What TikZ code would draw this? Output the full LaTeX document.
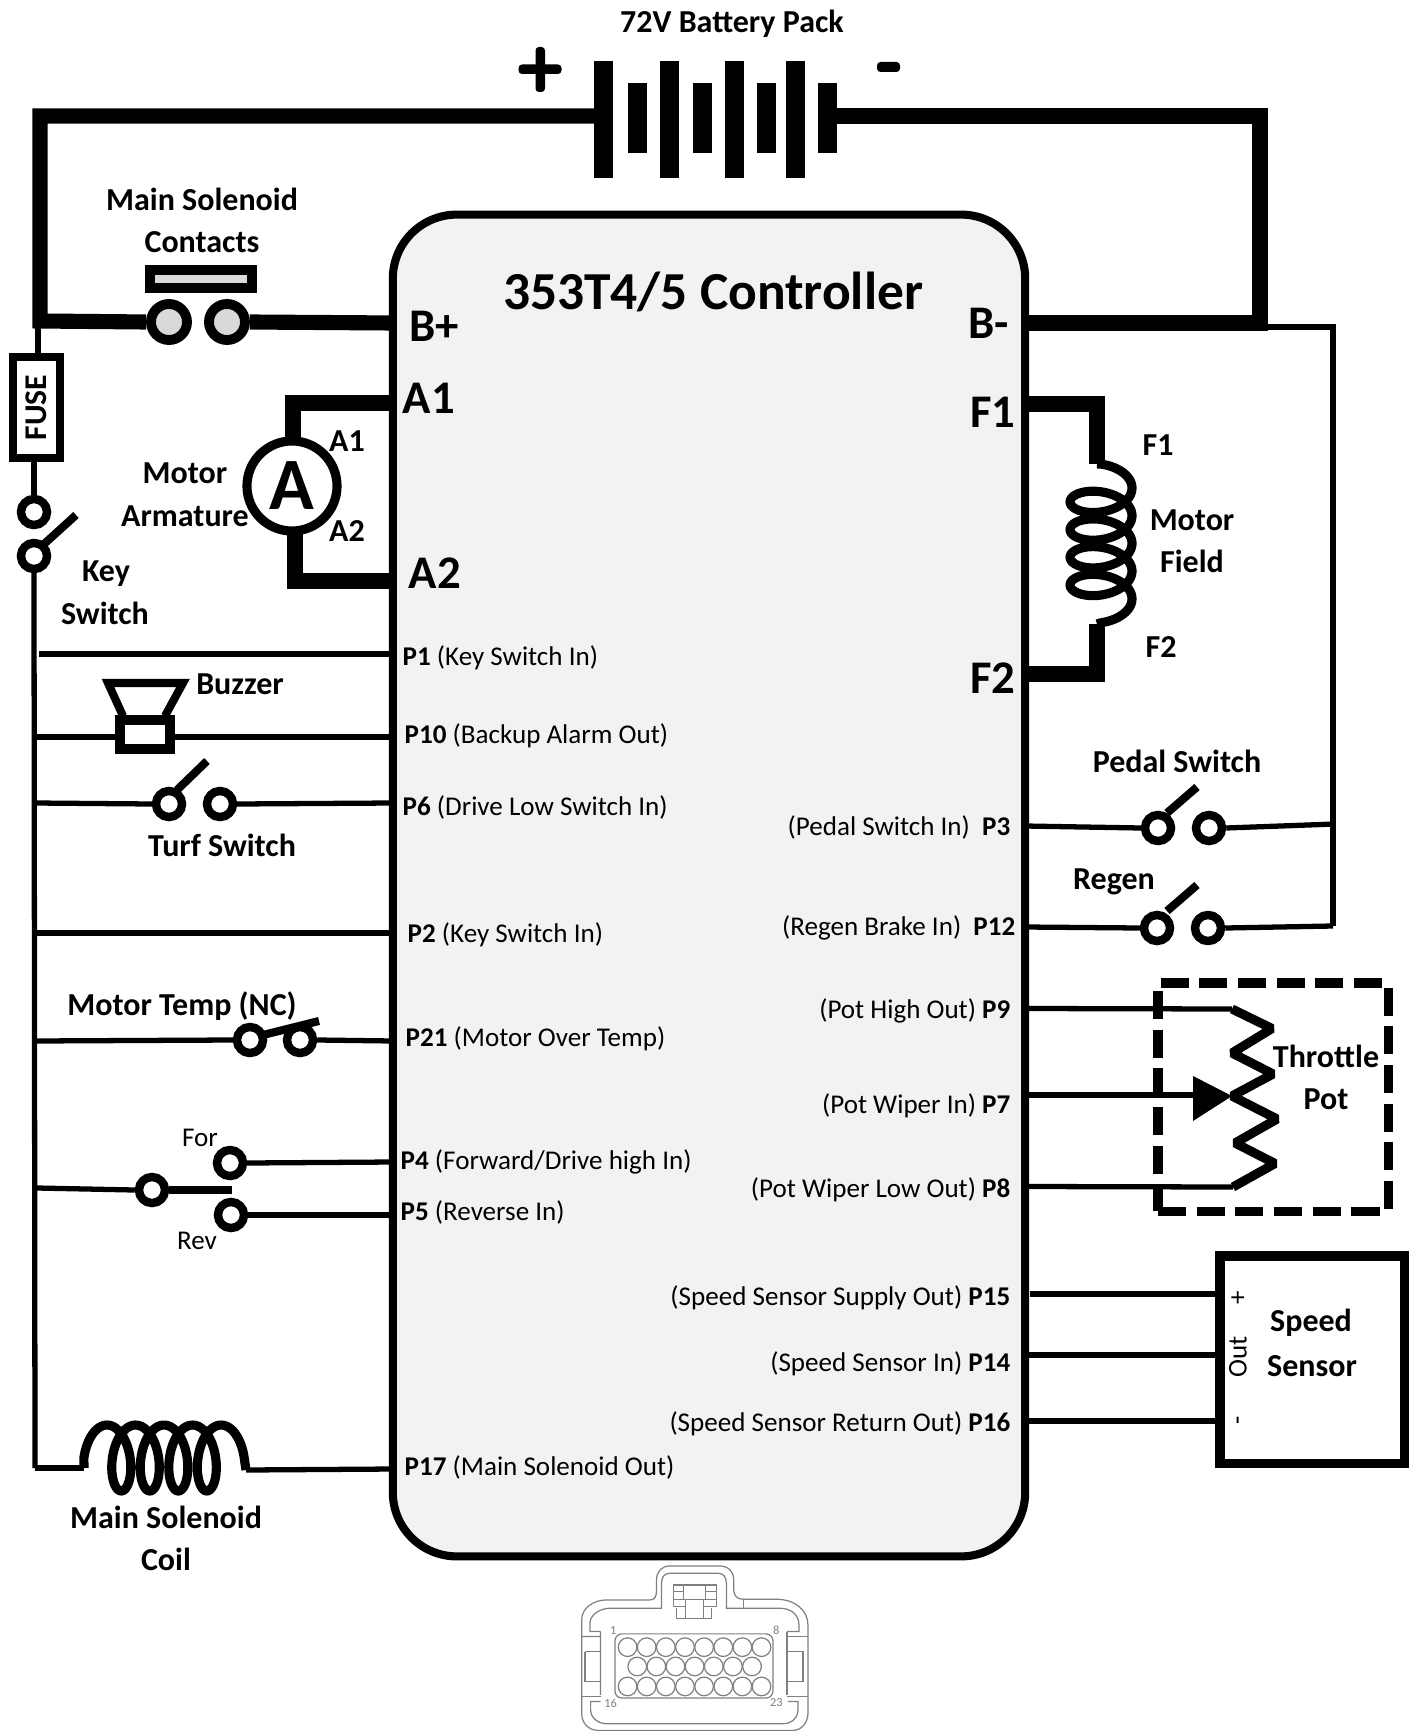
\documentclass[tikz,border=0pt]{standalone}
\usepackage{fontspec}
\setmainfont{Carlito}
\definecolor{ctrlgray}{HTML}{F2F2F2}
\definecolor{contactgray}{HTML}{D9D9D9}
\definecolor{pluggray}{HTML}{808080}
\tikzset{
  wthin/.style={line width=1.5pt},
  wmed/.style={line width=2.3pt},
  wcoil/.style={line width=2.6pt, line join=bevel},
  wthick/.style={line width=4.3pt, line join=miter},
  lbl/.style={font=\fontsize{9.1}{11}\selectfont\bfseries, inner sep=0pt},
  pinlbl/.style={font=\fontsize{7.7}{9}\selectfont, inner sep=0pt},
  biglbl/.style={font=\fontsize{13.3}{15}\selectfont\bfseries, inner sep=0pt},
  swc/.style={circle, draw, line width=2.4pt, fill=white, minimum size=0.26cm, inner sep=0pt},
  contact/.style={circle, draw, line width=2.8pt, fill=contactgray, minimum size=0.36cm, inner sep=0pt},
  plug/.style={draw=pluggray, line width=0.35pt},
}
\begin{document}
\begin{tikzpicture}[x=0.01cm, y=-0.01cm]
    \useasboundingbox (0,0) rectangle (1410,1731);
    \clip (0,0) rectangle (1410,1731);

    % Pin ends on the controller edge
    \coordinate (bplus) at (393,323);
    \coordinate (a1) at (393,403);
    \coordinate (a2) at (393,581);
    \coordinate (p1) at (393,654);
    \coordinate (p10) at (393,737);
    \coordinate (p6) at (393,803);
    \coordinate (p2) at (393,933);
    \coordinate (p21) at (393,1041);
    \coordinate (p4) at (393,1162);
    \coordinate (p5) at (393,1215);
    \coordinate (p17) at (393,1469);
    \coordinate (bminus) at (1025,323);
    \coordinate (f1) at (1025,404);
    \coordinate (f2) at (1025,674);
    \coordinate (p3) at (1025,826);
    \coordinate (p12) at (1025,927);
    \coordinate (p9) at (1025,1008.5);
    \coordinate (p7) at (1025,1095);
    \coordinate (p8) at (1025,1186.5);
    \coordinate (p15) at (1030,1294);
    \coordinate (p14) at (1025,1355);
    \coordinate (p16) at (1025,1421);

    % Battery pack
    \coordinate (batl) at (594,116);
    \coordinate (batr) at (837,116);
    \foreach \bx in {603.5,669.5,734.5,795.5}
        \fill (\bx-9.5,61) rectangle (\bx+9.5,178);
    \foreach \bx in {637.5,702,766.5,827.5}
        \fill (\bx-9.5,83) rectangle (\bx+9.5,153);
    \fill[rounded corners=1pt] (518.5,64.5) rectangle (561.5,74);
    \fill[rounded corners=1pt] (535.5,47) rectangle (545,92);
    \fill[rounded corners=1pt] (877,62) rectangle (900,72);
    \node[lbl] (batlbl) at (732,24) {72V Battery Pack};

    % Main power wires
    \coordinate (tl) at (40,116);
    \coordinate (bl) at (40,321);
    \coordinate (tr) at (1260,116);
    \coordinate (br) at (1260,323);
    \coordinate (rr) at (1333,327);
    \coordinate (rb) at (1333,926);
    \coordinate (rs) at (1267,327);
    \node[contact] (c1) at (169,322) {};
    \node[contact] (c2) at (227,322) {};
    \draw[wthick] (batl) -- (tl) -- (bl) -- (c1.west);
    \draw[wthick] (c2.east) -- (bplus);
    \draw[wthick] (batr) -- (tr) -- (br) -- (bminus);
    \draw[wthin] (rs) -- (rr) -- (rb);
    \node[draw, line width=2.8pt, fill=contactgray, minimum width=1.02cm, minimum height=0.18cm, inner sep=0pt] (cbar) at (201,279) {};
    \node[lbl] (solc1) at (202,199) {Main Solenoid};
    \node[lbl] (solc2) at (202,242) {Contacts};

    % Fuse and key switch
    \coordinate (fuset) at (38,328);
    \coordinate (railb) at (35,1468);
    \node[draw, line width=2.3pt, rotate=90, minimum width=1.01cm, minimum height=0.47cm, inner sep=0pt, font=\fontsize{9}{10}\selectfont\bfseries] (fuse) at (36.5,407.5) {FUSE};
    \node[swc] (k1) at (34,512) {};
    \node[swc] (k2) at (34,556) {};
    \draw[wthin] (fuset) -- (fuset |- fuse.east);
    \draw[wthin] (k1 |- fuse.west) -- (k1.north);
    \draw[wthin] (k2.south) -- (railb);
    \draw[wmed] (43,545) -- (76,515);
    \node[lbl] (key1) at (106,573.5) {Key};
    \node[lbl] (key2) at (105,613) {Switch};

    % Armature
    \coordinate (arm1) at (293,403);
    \coordinate (arm2) at (295,581);
    \draw[wthick] (a1) -- (arm1) -- (293,445);
    \draw[wthick] (295,530) -- (arm2) -- (a2);
    \node[circle, draw, line width=2.6pt, fill=white, minimum size=0.9cm, inner sep=0pt, font=\fontsize{21}{23}\selectfont\bfseries] (arm) at (292,486) {A};
    \node[lbl] (arma1) at (347,441) {A1};
    \node[lbl] (arma2) at (347,531) {A2};
    \node[lbl] (mot1) at (185,473) {Motor};
    \node[lbl] (mot2) at (185,516) {Armature};

    % Left side wires
    \coordinate (p1w) at (39,654);
    \draw[wthin] (p1w) -- (p1);
    \draw[wthin] (railb |- p10) -- (p10);
    \draw[wmed] (123,716) -- (108,683) -- (183,683) -- (165,716);
    \node[draw, line width=2.6pt, fill=white, minimum width=0.5cm, minimum height=0.29cm, inner sep=0pt] (buzz) at (145,734.5) {};
    \node[lbl] (buzzlbl) at (240,684) {Buzzer};

    \node[swc] (t1) at (169,804) {};
    \node[swc] (t2) at (220,804) {};
    \draw[wthin] (railb |- p6) -- (t1.west);
    \draw[wthin] (t2.east) -- (p6);
    \draw[wmed] (177,790) -- (207,761);
    \node[lbl] (turf) at (222,845) {Turf Switch};

    \draw[wthin] (railb |- p2) -- (p2);

    \node[swc] (mt1) at (250,1040) {};
    \node[swc] (mt2) at (300,1040) {};
    \draw[wthin] (railb |- p21) -- (mt1.west);
    \draw[wthin] (mt2.east) -- (p21);
    \draw[wmed] (263,1035) -- (319,1021);
    \node[lbl] (mtemp) at (182,1006) {Motor Temp (NC)};

    % Forward / reverse
    \coordinate (fwl) at (37,1188);
    \coordinate (fwb) at (232,1190);
    \node[swc] (fc) at (152,1190) {};
    \node[swc] (ff) at (230,1163) {};
    \node[swc] (fr) at (231,1215) {};
    \draw[wthin] (fwl) -- (fc.west);
    \draw[line width=2.5pt] (fc.east) -- (fwb);
    \draw[wthin] (ff.east) -- (p4);
    \draw[wthin] (fr.east) -- (p5);
    \node[pinlbl] (forl) at (200,1138) {For};
    \node[pinlbl] (revl) at (197,1241) {Rev};

    % Main solenoid coil
    \coordinate (coill) at (84,1468);
    \coordinate (coilr) at (246,1470);
    \draw[wthin] (railb) -- (coill);
    \draw[wthin] (coilr) -- (p17);
    \draw[wcoil] (coill) -- plot[domain=-90:1530, samples=240] ({107+(\x/57.2958)*4.54+16*sin(\x)}, {1458-33*cos(\x)}) -- (coilr);
    \node[lbl] (solm1) at (166,1517) {Main Solenoid};
    \node[lbl] (solm2) at (166,1559) {Coil};

    % Motor field
    \coordinate (fld1) at (1097,404);
    \coordinate (fld2) at (1097,674);
    \coordinate (fld1e) at (1097,464);
    \coordinate (fld2e) at (1097,624);
    \draw[wthick] (f1) -- (fld1) -- (fld1e);
    \draw[wthick] (fld2e) -- (fld2) -- (f2);
    \draw[wcoil] (fld1e) -- plot[domain=-90:1530, samples=240] ({1101+31*cos(\x)}, {488+(\x/57.2958)*4.41+17*sin(\x)}) -- (fld2e);
    \node[lbl] (ff1) at (1158,445) {F1};
    \node[lbl] (ff2) at (1161,647) {F2};
    \node[lbl] (fm1) at (1192,520) {Motor};
    \node[lbl] (fm2) at (1192,561) {Field};

    % Pedal and regen switches
    \coordinate (pse) at (1335,824);
    \node[swc] (ps1) at (1158,828) {};
    \node[swc] (ps2) at (1209,828) {};
    \draw[wthin] (p3) -- (ps1.west);
    \draw[wthin] (ps2.east) -- (pse);
    \draw[wmed] (1167,813) -- (1197,787);
    \node[lbl] (pedal) at (1177,761) {Pedal Switch};
    \node[swc] (rg1) at (1157,928) {};
    \node[swc] (rg2) at (1208,928) {};
    \draw[wthin] (p12) -- (rg1.west);
    \draw[wthin] (rg2.east) -- (rb);
    \draw[wmed] (1167,911) -- (1197,885);
    \node[lbl] (regen) at (1114,882) {Regen};

    % Throttle pot
    \coordinate (z1) at (1232,1009);
    \coordinate (z5) at (1232,1096);
    \coordinate (z9) at (1233,1187);
    \coordinate (wip) at (1193,1095);
    \draw[wthin] (p9) -- (z1);
    \draw[wthin] (p7) -- (wip);
    \draw[wthin] (p8) -- (z9);
    \draw[wcoil] (z1) -- (1272,1028.5) -- (1232,1053) -- (1273,1074) -- (z5) -- (1277,1119) -- (1235,1143) -- (1275,1163.5) -- (z9);
    \fill (1193,1076) -- (z5) -- (1193,1121) -- cycle;
    \node[draw, line width=2.6pt, dash pattern=on 8pt off 3pt, minimum width=2.3cm, minimum height=2.28cm, inner sep=0pt] (pot) at (1273,1097) {};
    \node[lbl] (th1) at (1326,1056) {Throttle};
    \node[lbl] (th2) at (1326,1099) {Pot};

    % Speed sensor
    \node[draw, line width=2.6pt, minimum width=1.84cm, minimum height=2.07cm, inner sep=0pt] (sens) at (1312,1359.5) {};
    \draw[wthin] (p15) -- (sens.west |- p15);
    \draw[wthin] (p14) -- (sens.west |- p14);
    \draw[wthin] (p16) -- (sens.west |- p16);
    \node[pinlbl, rotate=90] (splus) at (1239,1298) {+};
    \node[pinlbl, rotate=90] (sout) at (1238,1357) {Out};
    \node[pinlbl, rotate=90] (sminus) at (1241,1420) {-};
    \node[lbl] (sp1) at (1311,1323) {Speed};
    \node[lbl] (sp2) at (1312,1366) {Sensor};

    % Controller
    \node[draw, line width=2.3pt, fill=ctrlgray, rounded corners=0.64cm, minimum width=6.32cm, minimum height=13.41cm, inner sep=0pt] (ctrl) at (709,885.5) {};
    \node[font=\fontsize{15.2}{17}\selectfont\bfseries, inner sep=0pt] (title) at (713,292) {353T4/5 Controller};
    \node[biglbl] (lbplus) at (434,326) {B+};
    \node[biglbl] (lbminus) at (989,323) {B-};
    \node[biglbl] (la1) at (429,398) {A1};
    \node[biglbl] (la2) at (435,573) {A2};
    \node[biglbl] (lf1) at (993,412) {F1};
    \node[biglbl] (lf2) at (993,678) {F2};

    % Pin labels, left
    \node[pinlbl, anchor=west] (lp1) at (402,657.5) {\textbf{P1} (Key Switch In)};
    \node[pinlbl, anchor=west] (lp10) at (404,735.5) {\textbf{P10} (Backup Alarm Out)};
    \node[pinlbl, anchor=west] (lp6) at (402,807.5) {\textbf{P6} (Drive Low Switch In)};
    \node[pinlbl, anchor=west] (lp2) at (407,934.5) {\textbf{P2} (Key Switch In)};
    \node[pinlbl, anchor=west] (lp21) at (405,1038.5) {\textbf{P21} (Motor Over Temp)};
    \node[pinlbl, anchor=west] (lp4) at (400,1161.5) {\textbf{P4} (Forward/Drive high In)};
    \node[pinlbl, anchor=west] (lp5) at (400,1212.5) {\textbf{P5} (Reverse In)};
    \node[pinlbl, anchor=west] (lp17) at (404,1467.5) {\textbf{P17} (Main Solenoid Out)};

    % Pin labels, right
    \node[pinlbl, anchor=east] (lp3) at (1011,827.5) {(Pedal Switch In)~~\textbf{P3}};
    \node[pinlbl, anchor=east] (lp12) at (1016,927.5) {(Regen Brake In)~~\textbf{P12}};
    \node[pinlbl, anchor=east] (lp9) at (1011,1010.5) {(Pot High Out) \textbf{P9}};
    \node[pinlbl, anchor=east] (lp7) at (1011,1105.5) {(Pot Wiper In) \textbf{P7}};
    \node[pinlbl, anchor=east] (lp8) at (1011,1189.5) {(Pot Wiper Low Out) \textbf{P8}};
    \node[pinlbl, anchor=east] (lp15) at (1011,1297.5) {(Speed Sensor Supply Out) \textbf{P15}};
    \node[pinlbl, anchor=east] (lp14) at (1011,1363.5) {(Speed Sensor In) \textbf{P14}};
    \node[pinlbl, anchor=east] (lp16) at (1011,1423.5) {(Speed Sensor Return Out) \textbf{P16}};

    % Plug outline
    \begin{scope}[shift={(560,1540)}, x=0.00333cm, y=-0.00333cm]
        \draw[plug] (65,290) -- (65,240) .. controls (65,205) and (100,180) .. (140,180) -- (270,180) .. controls (285,180) and (290,170) .. (290,150) -- (290,120) .. controls (290,95) and (305,78) .. (330,78) -- (480,78) .. controls (505,78) and (522,95) .. (522,120) -- (522,150) .. controls (522,170) and (535,178) .. (552,178) -- (650,178) .. controls (705,178) and (745,210) .. (745,255) -- (745,290);
        \draw[plug] (122,275) -- (90,275) -- (90,250) .. controls (90,225) and (120,205) .. (150,205) -- (305,205) -- (305,130) .. controls (305,110) and (315,100) .. (330,100) -- (475,100) .. controls (490,100) and (500,110) .. (500,130) -- (500,205) -- (660,205) .. controls (695,205) and (718,225) .. (718,255) -- (718,275) -- (682,275);
        \draw[plug] (552,178) -- (552,205);
        \draw[plug] (65,290) -- (122,290) (122,275) -- (122,465) (65,290) -- (65,520) .. controls (65,550) and (85,572) .. (115,572) -- (700,572) .. controls (725,572) and (745,550) .. (745,520) -- (745,290);
        \draw[plug] (75,335) -- (120,335) (75,335) -- (75,425) -- (120,425);
        \draw[plug] (122,485) -- (92,485) -- (92,510) .. controls (92,535) and (115,552) .. (140,552) -- (670,552) .. controls (695,552) and (715,535) .. (715,510) -- (715,485) -- (685,485);
        \draw[plug] (682,275) -- (682,465) (682,290) -- (745,290) (682,470) -- (745,470) (65,470) -- (122,470);
        \draw[plug] (682,335) -- (730,335) -- (730,425) -- (682,425);
        \draw[plug, rounded corners=2pt] (165,282) rectangle (640,475);
        \foreach \k in {0,...,7} {
            \draw[plug] (203+57.5*\k,322) circle (28);
            \draw[plug] (203+57.5*\k,440) circle (28);
        }
        \foreach \k in {0,...,6}
            \draw[plug] (232+57.5*\k,380) circle (28);
        % Latch
        \draw[plug] (340,200) -- (340,135) -- (470,135) -- (470,200);
        \draw[plug] (372,135) -- (372,178) -- (438,178) -- (438,135);
        \draw[plug] (340,155) -- (372,155) (340,178) -- (372,178) (438,155) -- (470,155) (438,178) -- (470,178);
        \draw[plug] (340,200) -- (378,200) (432,200) -- (470,200);
        \draw[plug] (378,178) -- (378,235) (432,178) -- (432,235);
        \draw[plug] (350,205) -- (350,235) -- (455,235) -- (455,205);
        \node[text=pluggray, font=\fontsize{3.5}{4}\selectfont, inner sep=0pt] (n1) at (160,272) {1};
        \node[text=pluggray, font=\fontsize{3.5}{4}\selectfont, inner sep=0pt] (n8) at (650,272) {8};
        \node[text=pluggray, font=\fontsize{3.5}{4}\selectfont, inner sep=0pt] (n16) at (152,490) {16};
        \node[text=pluggray, font=\fontsize{3.5}{4}\selectfont, inner sep=0pt] (n23) at (650,488) {23};
    \end{scope}
\end{tikzpicture}
\end{document}
